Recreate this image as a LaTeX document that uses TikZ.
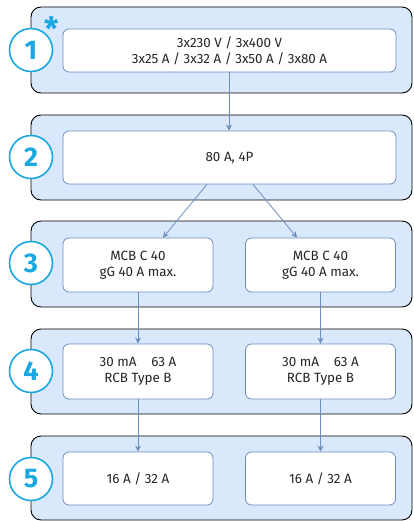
\documentclass[tikz,border=0pt]{standalone}
\usepackage{fontspec}
\setmainfont{Fira Sans}
\usetikzlibrary{arrows.meta,calc}
\definecolor{panelfill}{HTML}{DAE8FC}
\definecolor{boxline}{HTML}{6C8EBF}
\definecolor{cyanc}{HTML}{1AA8E0}
\begin{document}
\begin{tikzpicture}[x=1pt,y=-1pt,
  panel/.style={draw=black,line width=0.9pt,fill=panelfill,rounded corners=10pt,minimum width=381pt,inner sep=0pt},
  box/.style={draw=boxline,line width=0.8pt,fill=white,rounded corners=6pt,inner sep=0pt,align=center,font=\fontsize{13.4}{16}\selectfont,text=black!85},
  wide/.style={box,minimum width=333pt},
  half/.style={box,minimum width=150pt},
  num/.style={circle,draw=cyanc,line width=1.6pt,fill=white,minimum size=43pt,inner sep=0pt,text=cyanc,font=\fontsize{27}{27}\bfseries},
  conn/.style={draw=boxline,line width=0.8pt,-{Stealth[length=6pt,width=6pt]}}]
\useasboundingbox (0,0) rectangle (413,521);
% panels
\node[panel,minimum height=86pt] (p1) at (221.5,50) {};
\node[panel,minimum height=85pt] (p2) at (221.5,157.5) {};
\node[panel,minimum height=86pt] (p3) at (221.5,264) {};
\node[panel,minimum height=85pt] (p4) at (221.5,371.5) {};
\node[panel,minimum height=84pt] (p5) at (221.5,478) {};
% inner boxes
\node[wide,minimum height=43pt] (b1) at (229.5,50.5) {3x230 V / 3x400 V\\3x25 A / 3x32 A / 3x50 A / 3x80 A};
\node[wide,minimum height=53pt] (b2) at (229.5,157.5) {80 A, 4P};
\node[half,minimum height=54pt] (b3a) at (138,265) {MCB C 40\\gG 40 A max.};
\node[half,minimum height=54pt] (b3b) at (320.5,265) {MCB C 40\\gG 40 A max.};
\node[half,minimum height=55pt] (b4a) at (138,371.5) {30 mA\hspace{1.1em}63 A\\RCB Type B};
\node[half,minimum height=55pt] (b4b) at (320.5,371.5) {30 mA\hspace{1.1em}63 A\\RCB Type B};
\node[half,minimum height=53pt] (b5a) at (138,478.5) {16 A / 32 A};
\node[half,minimum height=53pt] (b5b) at (320.5,478.5) {16 A / 32 A};
% number circles
\node[num] (n1) at (31,50) {1};
\node[num] (n2) at (31,157) {2};
\node[num] (n3) at (31,263) {3};
\node[num] (n4) at (31,371) {4};
\node[num] (n5) at (31,479) {5};
\node[text=cyanc,font=\fontsize{32}{32}\bfseries,inner sep=0pt] (star) at (52,29) {*};
% connectors
\draw[conn] ($(b1.south)+(-0.5,0)$) -- ($(b2.north)+(-0.5,0)$);
\draw[conn] ($(b2.south)+(-22.5,0)$) -- ($(b3a.north)+(25,0)$);
\draw[conn] ($(b2.south)+(23.5,0)$) -- ($(b3b.north)+(-23.5,0)$);
\draw[conn] (b3a.south) -- (b4a.north);
\draw[conn] (b3b.south) -- (b4b.north);
\draw[conn] (b4a.south) -- (b5a.north);
\draw[conn] (b4b.south) -- (b5b.north);
\end{tikzpicture}
\end{document}
